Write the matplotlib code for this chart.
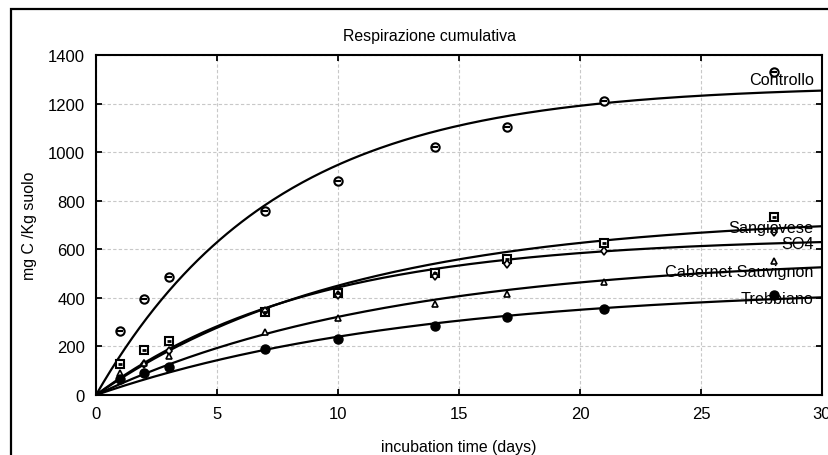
import matplotlib
matplotlib.use("Agg")
import matplotlib.pyplot as plt
import numpy as np
from matplotlib.patches import Rectangle

plt.rcParams["font.family"] = ["Liberation Sans", "DejaVu Sans"]

# incubation days
days = [1, 2, 3, 7, 10, 14, 17, 21, 28]

# measured cumulative respiration (mg C / Kg suolo)
controllo = [265, 394, 485, 756, 880, 1020, 1103, 1212, 1329]
sangiovese = [129, 187, 221, 343, 419, 502, 560, 625, 732]
so4 = [68, 128, 180, 345, 410, 489, 539, 594, 670]
cabernet = [92, 132, 159, 258, 316, 373, 415, 464, 553]
trebbiano = [66, 91, 115, 189, 229, 283, 320, 354, 412]

# first-order fits C = C0 * (1 - exp(-k t))
fit_c0 = {"Controllo": 1275, "Sangiovese": 739, "SO4": 651,
          "Cabernet Sauvignon": 575, "Trebbiano": 446}
fit_k = {"Controllo": 0.136, "Sangiovese": 0.094, "SO4": 0.114,
         "Cabernet Sauvignon": 0.082, "Trebbiano": 0.0773}

# y position of the curve labels near the right edge
label_y = {"Controllo": 1299, "Sangiovese": 688, "SO4": 622,
           "Cabernet Sauvignon": 510, "Trebbiano": 399}

fig = plt.figure(figsize=(8.29, 4.56), dpi=100)
fig.patches.append(Rectangle((11 / 829, -0.1), 1.2, 1.1 - 10 / 456,
                             transform=fig.transFigure, fill=False,
                             edgecolor="black", linewidth=1.6))
ax = fig.add_axes([96 / 829, 1 - 396 / 456, 726 / 829, 340 / 456])

t = np.linspace(0, 30, 300)
for name in fit_c0:
    ax.plot(t, fit_c0[name] * (1 - np.exp(-fit_k[name] * t)),
            color="black", linewidth=1.6, zorder=3)

ax.plot(days, controllo, "o", mfc="white", mec="black", mew=1.5, ms=6, zorder=4)
ax.plot(days, controllo, "_", color="black", mew=1.5, ms=4, zorder=5)
ax.plot(days, sangiovese, "s", mfc="white", mec="black", mew=1.5, ms=6, zorder=4)
ax.plot(days, sangiovese, "_", color="black", mew=2, ms=3.5, zorder=5)
ax.plot(days, so4, "d", mfc="white", mec="black", mew=1.2, ms=4.5, zorder=4)
ax.plot(days, cabernet, "^", mfc="white", mec="black", mew=1.2, ms=4.5, zorder=4)
ax.plot(days, trebbiano, "o", color="black", ms=6.5, zorder=4)

for name, yv in label_y.items():
    ax.text(29.65, yv, name, ha="right", va="center", fontsize=11.7, zorder=6)

ax.set_xlim(0, 30)
ax.set_ylim(0, 1400)
ax.set_xticks(range(0, 31, 5))
ax.set_yticks(range(0, 1401, 200))
ax.grid(True, color="#c8c8c8", linestyle=(0, (3, 2)), linewidth=0.8)
ax.tick_params(direction="in", length=4, width=1.3, labelsize=12,
               top=True, right=True, pad=8)
for sp in ax.spines.values():
    sp.set_linewidth(1.5)

ax.set_title("Respirazione cumulativa", fontsize=11.4, pad=11, x=0.46)
ax.set_xlabel("incubation time (days)", fontsize=11.4, labelpad=13)
ax.set_ylabel("mg C /Kg suolo", fontsize=11.4, labelpad=8)

fig.savefig("out.png", dpi=100)
